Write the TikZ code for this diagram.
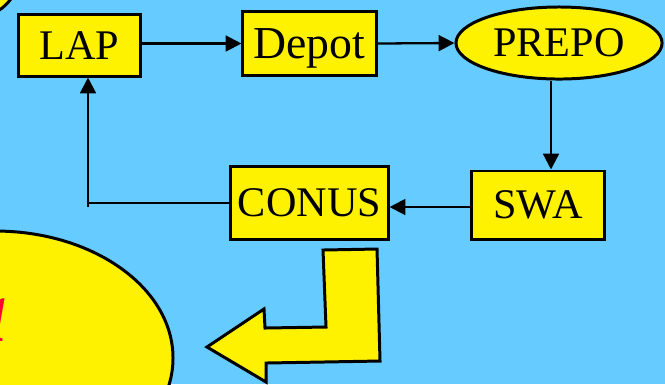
\documentclass[tikz,border=0pt]{standalone}
\usepackage{fontspec}
\setmainfont{Liberation Serif}
\usetikzlibrary{arrows.meta,shapes.geometric}
\definecolor{sky}{RGB}{102,204,255}
\definecolor{hot}{RGB}{255,0,51}
\begin{document}
\begin{tikzpicture}[x=0.01cm,y=-0.01cm,font=\fontsize{12}{14}\selectfont,
  box/.style={draw,line width=0.85pt,fill=yellow,inner sep=0pt},
  arr/.style={line width=0.65pt,-{Triangle[length=4.5pt,width=4.5pt]}}]
\useasboundingbox (0,0) rectangle (665,384);
\clip (0,0) rectangle (665,384);
\fill [sky] (0,0) rectangle (665,384);
% bubbles at the edges
\draw [line width=0.85pt,fill=yellow] (-35,-20) ellipse [x radius=52,y radius=40];
\draw [line width=0.85pt,fill=yellow] (-5,358) ellipse [x radius=178,y radius=127];
\node [text=hot,font=\fontsize{26}{30}\selectfont\bfseries\itshape,anchor=base east,inner sep=0pt] (word) at (8,341) {a};
% the cycle
\node [box,minimum width=1.21cm,minimum height=0.61cm] (lap) at (79.5,45.5) {LAP};
\node [box,minimum width=1.33cm,minimum height=0.63cm,text depth=0pt,font=\fontsize{13}{15}\selectfont] (depot) at (309.5,43.5) {Depot};
\node [box,ellipse,minimum width=2.06cm,minimum height=0.72cm] (prepo) at (559,43) {PREPO};
\node [box,minimum width=1.32cm,minimum height=0.68cm] (swa) at (538,205) {SWA};
\node [box,minimum width=1.57cm,minimum height=0.73cm] (conus) at (309.5,203) {CONUS};
\coordinate (bend) at (88,207);
\draw [arr] (lap.east |- depot) -- (depot.west);
\draw [arr] (depot.east) -- (prepo.west);
\draw [arr] ([xshift=-0.08cm]prepo.south) -- ([xshift=-0.08cm]prepo.south |- swa.north);
\draw [arr] (swa.west |- 0,207) -- (conus.east |- 0,207);
\draw [line width=0.65pt] (conus.west) -- (conus.west -| bend);
\draw [arr] (bend) -- (bend |- lap.south);
% big turn arrow
\draw [line width=0.85pt,fill=yellow,line join=miter]
  (323,250) -- (377,249) -- (380,361) -- (266,363) -- (266,382) -- (207,347)
  -- (264,309) -- (265,328) -- (326,327) -- cycle;
\end{tikzpicture}
\end{document}
